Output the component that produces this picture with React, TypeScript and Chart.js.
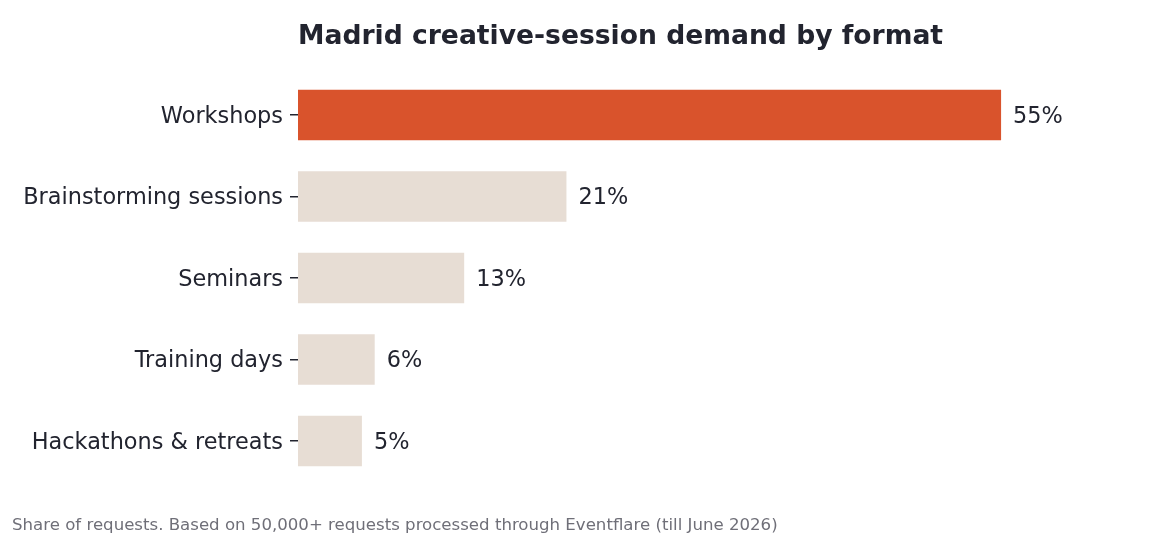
import React, { useEffect, useRef } from "react";
import { Chart, registerables } from "chart.js";

Chart.register(...registerables);

const categories = [
  "Workshops",
  "Brainstorming sessions",
  "Seminars",
  "Training days",
  "Hackathons & retreats",
];
const shares = [55, 21, 13, 6, 5];
const valueLabels = ["55%", "21%", "13%", "6%", "5%"];
const barColors = ["#d9532c", "#e7ddd4", "#e7ddd4", "#e7ddd4", "#e7ddd4"];
const titleText = "Madrid creative-session demand by format";
const footerText =
  "Share of requests. Based on 50,000+ requests processed through Eventflare (till June 2026)";

const TEXT = "#22242f";
const FONT = "'DejaVu Sans', sans-serif";
const LABEL_SIZE = 22.4;

const decorPlugin = {
  id: "decor",
  afterDraw(chart: any) {
    const ctx = chart.ctx;
    const area = chart.chartArea;
    ctx.save();
    // title
    ctx.fillStyle = TEXT;
    ctx.font = `bold 26.6px ${FONT}`;
    ctx.textAlign = "left";
    ctx.textBaseline = "alphabetic";
    ctx.fillText(titleText, area.left, 44.3);
    // footer
    ctx.fillStyle = "#6f6f78";
    ctx.font = `16.6px ${FONT}`;
    ctx.fillText(footerText, 12, 530);
    // category labels and value labels
    const meta = chart.getDatasetMeta(0);
    const yScale = chart.scales.y;
    ctx.fillStyle = TEXT;
    ctx.font = `${LABEL_SIZE}px ${FONT}`;
    const off = (0.7 * LABEL_SIZE) / 2;
    meta.data.forEach((bar: any, i: number) => {
      ctx.textAlign = "right";
      ctx.fillText(categories[i], yScale.right - 15, bar.y + off);
      ctx.textAlign = "left";
      ctx.fillText(valueLabels[i], bar.x + 12, bar.y + off);
    });
    ctx.restore();
  },
};

export default function App() {
  const ref = useRef<HTMLCanvasElement | null>(null);
  useEffect(() => {
    if (!ref.current) return;
    const chart = new Chart(ref.current, {
      type: "bar",
      data: {
        labels: categories,
        datasets: [
          {
            data: shares,
            backgroundColor: barColors,
            borderWidth: 0,
            barPercentage: 0.62,
            categoryPercentage: 1,
          },
        ],
      },
      options: {
        indexAxis: "y",
        animation: false,
        responsive: false,
        devicePixelRatio: 1,
        layout: { padding: { top: 74.25, bottom: 54.25, left: 0, right: 87 } },
        plugins: {
          legend: { display: false },
          tooltip: { enabled: false },
          title: { display: false },
        },
        scales: {
          x: {
            display: false,
            min: 0,
            max: 60,
          },
          y: {
            afterFit: (scale: any) => {
              scale.width = 298;
            },
            border: { display: false },
            grid: {
              display: true,
              drawOnChartArea: false,
              drawTicks: true,
              tickLength: 8,
              offset: false,
              color: TEXT,
              lineWidth: 1.5,
            },
            ticks: {
              display: false,
            },
          },
        },
      },
      plugins: [decorPlugin],
    });
    return () => chart.destroy();
  }, []);
  return (
    <div style={{ position: "absolute", left: 0, top: 0, width: 1152, height: 536, background: "#fff" }}>
      <canvas ref={ref} width={1152} height={536} />
    </div>
  );
}
